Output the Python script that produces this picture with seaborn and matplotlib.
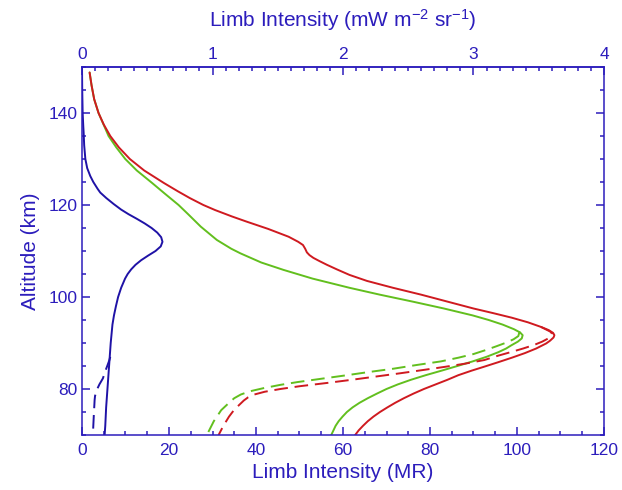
import numpy as np
import pandas as pd
import matplotlib
matplotlib.use('Agg')
import matplotlib.pyplot as plt
from matplotlib.ticker import MultipleLocator
import seaborn as sns

# altitude (km) / limb intensity (MR)
blue_alt = [150, 145, 140, 137, 135.7, 133, 130, 128, 126.3, 125, 123.5, 122.7, 121.5, 120.2, 119, 118, 117, 116,
            115, 114, 113, 112, 111, 110, 109, 108, 107, 106, 105, 104, 102, 100, 98, 96, 94, 92, 90, 88, 86,
            84, 82, 80, 78, 76, 74, 72, 70]
blue_mr = [0.0, 0.05, 0.15, 0.3, 0.38, 0.5, 0.77, 1.2, 1.9, 2.6, 3.6, 4.2, 5.6, 7.3, 9.0, 10.7, 12.6, 14.4,
           16.0, 17.3, 18.2, 18.5, 18.1, 16.9, 15.2, 13.6, 12.3, 11.3, 10.5, 9.9, 9.0, 8.3, 7.8, 7.35, 7.0, 6.8, 6.6, 6.45, 6.3,
           6.15, 6.0, 5.85, 5.7, 5.55, 5.45, 5.35, 5.2]

blue_d_alt = [87, 86.3, 85, 84, 82.3, 81, 80, 79.4, 78.5, 77.6, 74, 70]
blue_d_mr = [6.5, 6.3, 5.8, 5.4, 4.8, 4.0, 3.5, 3.3, 3.0, 2.9, 2.7, 2.5]

green_alt = [148.8, 146, 143, 140, 137.5, 135, 132.5, 130, 127.5, 124.8, 122.5, 120, 118, 115.3, 112.4, 110.5,
             109.5, 107.5, 105.9, 104, 102, 100.5, 99, 97.5, 96, 95, 94, 93, 92.3, 91.7, 91, 90.3, 89.5, 88.8,
             88, 87, 86, 85, 84, 83, 82, 81, 80, 79, 78, 77, 76, 75, 74, 73, 72, 71, 70]
green_mr = [1.75, 2.2, 2.8, 3.8, 4.95, 6.1, 7.9, 9.95, 12.6, 16.1, 19.0, 22.2, 24.4, 27.3, 31.0, 34.3,
            36.4, 41.2, 46.3, 53.0, 61.5, 68.5, 76.0, 83.2, 89.8, 93.5, 96.7, 99.3, 100.7, 101.3, 101.1, 100.2, 98.7, 97.5,
            95.7, 93.0, 89.8, 86.3, 82.7, 79.0, 75.6, 72.6, 70.0, 67.8, 65.7, 63.8, 62.2, 60.9, 59.9, 59.0, 58.3, 57.8, 57.3]

red_alt = [148.8, 146, 143, 140, 137.5, 135, 132.5, 130, 127.5, 124.8, 123, 121.5, 120, 118.9, 117.5, 116.4,
           114.8, 113.1, 112, 111.3, 110.5, 109.7, 109.1, 108.5, 107.8, 107, 106, 104.8, 103.5, 102, 100.5, 99,
           97.5, 96.5, 95.5, 94.5, 93.5, 92.8, 92.2, 91.7, 91.2, 90.5, 89.9, 88.8, 87.8, 86.8, 85.8, 84.8, 84,
           83, 82, 81, 80, 79, 78, 77, 76, 75, 74, 73, 72, 71, 70]
red_mr = [1.75, 2.2, 2.8, 3.8, 5.0, 6.5, 8.5, 11.0, 14.3, 18.8, 22.0, 24.8, 27.9, 30.6, 34.5, 37.8,
          42.8, 47.5, 49.7, 50.8, 51.3, 51.7, 52.3, 53.2, 54.6, 56.3, 58.6, 61.5, 65.5, 71.5, 78.0, 84.0,
          90.0, 94.5, 98.8, 102.5, 105.5, 107.3, 108.3, 108.6, 108.4, 107.6, 106.7, 104.4, 101.8, 98.8, 95.6, 92.3, 89.6,
          86.5, 84.0, 81.3, 78.6, 76.2, 74.0, 72.0, 70.2, 68.5, 67.0, 65.7, 64.6, 63.6, 62.8]

green_d_alt = [92.5, 91.5, 90.8, 90, 89.2, 88.4, 87.6, 86.8, 86, 85.2, 84.4, 83.7, 83, 82.2, 81.5, 80.9, 80.2,
               79.5, 78.8, 78, 77, 75.4, 73, 70]
green_d_mr = [100.6, 100.3, 99.2, 97.3, 95.0, 92.6, 90.0, 86.5, 82.5, 76.8, 71.5, 66.0, 60.9, 54.8, 49.5, 45.6, 41.8,
              38.6, 36.5, 35.0, 33.8, 32.0, 30.3, 28.7]

red_d_alt = [93.5, 92.5, 92, 91.5, 91, 90.3, 89.6, 88.8, 88, 87.2, 86.3, 85.5, 84.8, 84.1, 83.4, 82.7, 82, 81.3,
             80.6, 80, 79.4, 78.8, 78.2, 77.5, 76.5, 75.5, 74, 72, 70]
red_d_mr = [105.5, 107.6, 108.1, 107.9, 107.2, 105.8, 104.0, 101.4, 98.5, 95.5, 92.5, 88.0, 83.3, 78.2, 73.0, 67.5, 62.0, 56.2,
            50.0, 45.6, 42.0, 39.6, 38.2, 37.2, 36.1, 35.0, 33.8, 32.5, 31.4]

axis_blue = '#2c1dbc'
c_blue = '#1f12a6'
c_green = '#62bf1e'
c_red = '#cf1a20'
dashed = (0, (7, 3.5))

sns.set_style('ticks')
plt.rcParams['font.family'] = ['Liberation Sans', 'DejaVu Sans']
plt.rcParams['mathtext.default'] = 'regular'

fig = plt.figure(figsize=(6.22, 4.9), dpi=100)
ax = fig.add_axes([82/622, 55/490, 522/622, 368/490])

series = [
    (blue_mr, blue_alt, c_blue, '-'),
    (blue_d_mr, blue_d_alt, c_blue, dashed),
    (green_mr, green_alt, c_green, '-'),
    (red_mr, red_alt, c_red, '-'),
    (green_d_mr, green_d_alt, c_green, dashed),
    (red_d_mr, red_d_alt, c_red, dashed),
]
for xs, ys, col, ls in series:
    df = pd.DataFrame({'mr': xs, 'alt': ys})
    sns.lineplot(data=df, x='mr', y='alt', sort=False, estimator=None,
                 color=col, linestyle=ls, linewidth=1.4, ax=ax)

ax.set_xlim(0, 120)
ax.set_ylim(70, 150)
ax.xaxis.set_major_locator(MultipleLocator(20))
ax.xaxis.set_minor_locator(MultipleLocator(5))
ax.yaxis.set_minor_locator(MultipleLocator(5))
ax.set_yticks([80, 100, 120, 140])

ax.set_xlabel('Limb Intensity (MR)', fontsize=15, color=axis_blue, labelpad=3)
ax.set_ylabel('Altitude (km)', fontsize=15, color=axis_blue, labelpad=6)

for sp in ax.spines.values():
    sp.set_visible(True)
    sp.set_color(axis_blue)
    sp.set_linewidth(1.1)

ax.tick_params(axis='both', which='both', direction='in', colors=axis_blue, labelsize=12.5,
               right=True, width=1.1)
ax.tick_params(axis='x', which='both', top=False)
ax.tick_params(which='major', length=6)
ax.tick_params(which='minor', length=3)
ax.tick_params(axis='x', pad=6)

top = ax.secondary_xaxis('top', functions=(lambda x: x / 30.0, lambda x: x * 30.0))
top.set_xticks([0, 1, 2, 3, 4])
top.xaxis.set_minor_locator(MultipleLocator(0.1))
top.tick_params(which='both', direction='in', colors=axis_blue, labelsize=12.5, width=1.1)
top.tick_params(which='major', length=6)
top.tick_params(which='minor', length=3)
top.spines['top'].set_color(axis_blue)
top.spines['top'].set_linewidth(1.1)
top.set_xlabel('Limb Intensity (mW m$^{-2}$ sr$^{-1}$)', fontsize=15, color=axis_blue, labelpad=15)

fig.savefig('out.png', dpi=100)
